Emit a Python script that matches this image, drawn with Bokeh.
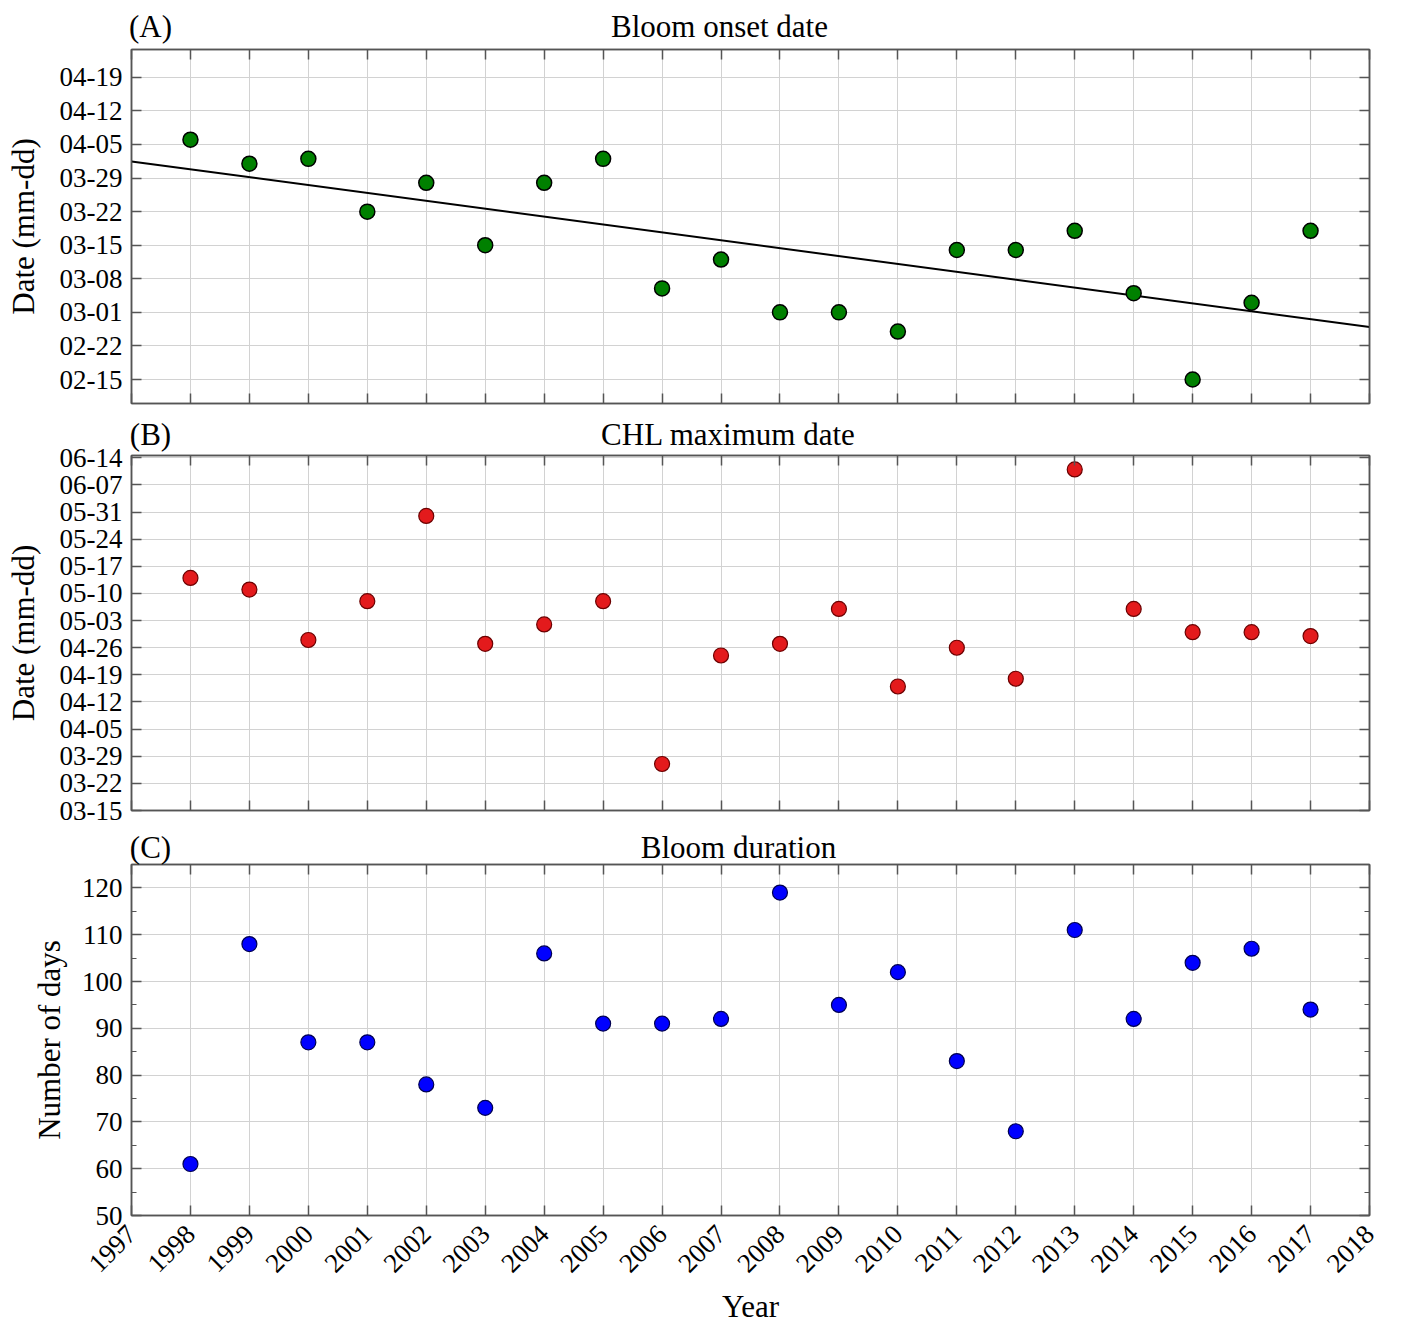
import numpy as np
from datetime import date
from bokeh.plotting import figure
from bokeh.layouts import column
from bokeh.models import (ColumnDataSource, FixedTicker, LinearAxis,
                          Range1d, CustomJSTickFormatter)
from bokeh.embed import file_html
from bokeh.resources import INLINE

# ---------------- data ----------------
years = list(range(1998, 2018))
# day of year (non-leap calendar)
onset_doy = [96, 91, 92, 81, 87, 74, 87, 92, 65, 71, 60, 60, 56, 73, 73, 77, 64, 46, 62, 77]
chlmax_doy = [134, 131, 118, 128, 150, 117, 122, 128, 86, 114, 117, 126, 106, 116, 108, 162, 126, 120, 120, 119]
duration_days = [61, 108, 87, 87, 78, 73, 106, 91, 91, 92, 119, 95, 102, 83, 68, 111, 92, 104, 107, 94]

x_ticks = list(range(1997, 2019))
x_tick_labels = [str(y) for y in x_ticks]
onset_tick_labels = ["02-15", "02-22", "03-01", "03-08", "03-15", "03-22",
                     "03-29", "04-05", "04-12", "04-19"]
chl_tick_labels = ["03-15", "03-22", "03-29", "04-05", "04-12", "04-19", "04-26",
                   "05-03", "05-10", "05-17", "05-24", "05-31", "06-07", "06-14"]
duration_ticks = [50, 60, 70, 80, 90, 100, 110, 120]
duration_minor = [55, 65, 75, 85, 95, 105, 115, 125]


def doy(s):
    m, d = s.split("-")
    return date(2001, int(m), int(d)).timetuple().tm_yday


FONT = "Liberation Serif"
AX_COL = "#555555"
GRID_COL = "#d2d2d2"
FIG_W = 1404
BORDER_L, BORDER_R = 131, 35
FRAME_W = FIG_W - BORDER_L - BORDER_R
X0, X1 = 1997, 2018
PX_PER_YEAR = FRAME_W / (X1 - X0)


def style_axis(ax, ticker, show_labels=True):
    ax.ticker = ticker
    ax.axis_line_color = AX_COL
    ax.axis_line_width = 1.5
    ax.major_tick_line_color = AX_COL
    ax.major_tick_line_width = 1.5
    ax.major_tick_in = 10
    ax.major_tick_out = 0
    ax.minor_tick_line_color = AX_COL
    ax.minor_tick_line_width = 1.2
    ax.minor_tick_in = 5
    ax.minor_tick_out = 0
    ax.major_label_text_font = FONT
    ax.major_label_text_font_size = "27px"
    ax.major_label_text_color = "black"
    ax.axis_label_text_font = FONT
    ax.axis_label_text_font_size = "31px"
    ax.axis_label_text_font_style = "normal"
    ax.axis_label_text_color = "black"
    if not show_labels:
        ax.formatter = CustomJSTickFormatter(code="return ''")
        ax.major_label_text_font_size = "0px"
        ax.major_label_standoff = 0


def plain_text_axis(ticker, labels, font_size, standoff):
    """Axis with no marks, used only to draw texts."""
    ax = LinearAxis(ticker=ticker,
                    formatter=CustomJSTickFormatter(args=dict(labels=labels),
                                                    code="return labels[index]"))
    ax.axis_line_color = None
    ax.major_tick_line_color = None
    ax.minor_tick_line_color = None
    ax.major_tick_in = 0
    ax.major_tick_out = 0
    ax.major_label_standoff = standoff
    ax.major_label_text_font = FONT
    ax.major_label_text_font_size = font_size
    ax.major_label_text_color = "black"
    return ax


def header_axis(positions_px, labels, standoff):
    ticks = [X0 + px / PX_PER_YEAR for px in positions_px]
    return plain_text_axis(FixedTicker(ticks=ticks, minor_ticks=[]), labels, "31px", standoff)


def make_panel(height, top, bottom, y_range, yticker, ylabel, overrides=None,
               label_standoff=16):
    p = figure(width=FIG_W, height=height, output_backend="svg", toolbar_location=None,
               x_range=Range1d(X0, X1), y_range=y_range,
               min_border_left=BORDER_L, min_border_right=BORDER_R,
               min_border_top=top, min_border_bottom=bottom,
               x_axis_location=None, y_axis_location=None)
    p.outline_line_color = AX_COL
    p.outline_line_width = 1.5
    xt = FixedTicker(ticks=x_ticks, minor_ticks=[])
    yl = LinearAxis()
    style_axis(yl, yticker)
    yl.axis_label = ylabel
    yl.major_label_standoff = 9
    yl.axis_label_standoff = label_standoff
    if overrides:
        yl.major_label_overrides = overrides
    p.add_layout(yl, "left")
    yr = LinearAxis()
    style_axis(yr, yticker, show_labels=False)
    p.add_layout(yr, "right")
    xa = LinearAxis()
    style_axis(xa, xt, show_labels=False)
    p.add_layout(xa, "above")
    xbm = LinearAxis()
    style_axis(xbm, xt, show_labels=False)
    p.add_layout(xbm, "below")
    p.xgrid.ticker = xt
    p.ygrid.ticker = yticker
    p.xgrid.grid_line_color = GRID_COL
    p.ygrid.grid_line_color = GRID_COL
    return p, xt


# ---------------- panel A ----------------
a_ticks = [doy(s) for s in onset_tick_labels]
a_ticker = FixedTicker(ticks=a_ticks, minor_ticks=[])
pa, _ = make_panel(410, 49, 7, Range1d(41, 114.8), a_ticker, "Date (mm-dd)",
                   {t: s for t, s in zip(a_ticks, onset_tick_labels)})
src_a = ColumnDataSource(dict(x=years, y=onset_doy))
coef = np.polyfit(years, onset_doy, 1)
trend_x = [X0, X1]
pa.line(trend_x, list(np.polyval(coef, trend_x)), line_color="black", line_width=2)
pa.scatter("x", "y", source=src_a, size=15, fill_color="#008000", line_color="black",
           line_width=1.5)
pa.add_layout(header_axis([19, 588], ["(A)", "Bloom onset date"], 6), "above")

# ---------------- panel B ----------------
b_ticks = [doy(s) for s in chl_tick_labels]
b_ticker = FixedTicker(ticks=b_ticks, minor_ticks=[])
pb, _ = make_panel(416, 45, 16, Range1d(74, 165.6), b_ticker, "Date (mm-dd)",
                   {t: s for t, s in zip(b_ticks, chl_tick_labels)})
src_b = ColumnDataSource(dict(x=years, y=chlmax_doy))
pb.scatter("x", "y", source=src_b, size=15, fill_color="#e31a1c", line_color="#6b0000",
           line_width=1.2)
pb.add_layout(header_axis([19, 597], ["(B)", "CHL maximum date"], 4), "above")

# ---------------- panel C ----------------
c_ticker = FixedTicker(ticks=duration_ticks, minor_ticks=duration_minor)
pc, xtc = make_panel(501, 37, 109, Range1d(50, 125), c_ticker, "Number of days",
                     label_standoff=12)
# rotated year labels (separate label-only axis below the tick axis)
xl = plain_text_axis(FixedTicker(ticks=x_ticks, minor_ticks=[]), x_tick_labels, "27px", 14)
xl.major_label_orientation = np.pi / 4
xl.axis_label = "Year"
xl.axis_label_text_font = FONT
xl.axis_label_text_font_size = "31px"
xl.axis_label_text_font_style = "normal"
xl.axis_label_text_color = "black"
xl.axis_label_standoff = 6
pc.add_layout(xl, "below")
src_c = ColumnDataSource(dict(x=years, y=duration_days))
pc.scatter("x", "y", source=src_c, size=15, fill_color="#0000ff", line_color="#000050",
           line_width=1.2)
pc.add_layout(header_axis([19, 607], ["(C)", "Bloom duration"], 0), "above")

layout = column(pa, pb, pc, spacing=0)
open("out.html", "w").write(file_html(layout, INLINE))
